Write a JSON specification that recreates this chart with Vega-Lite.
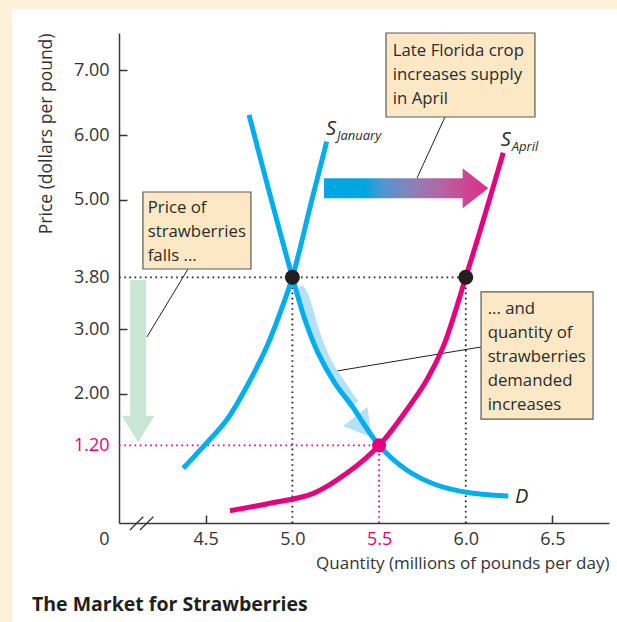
{
  "$schema": "https://vega.github.io/schema/vega-lite/v6.json",
  "width": 490,
  "height": 490,
  "autosize": {"type": "none"},
  "padding": {"left": 119, "top": 33, "right": 8, "bottom": 99},
  "background": "#ffffff",
  "config": {
    "view": {"stroke": null},
    "font": "Open Sans",
    "axis": {"grid": false, "labelFont": "Open Sans", "titleFont": "Open Sans", "labelFontSize": 18, "titleFontSize": 17, "domainColor": "#3a3a3a", "domainWidth": 1.5, "tickWidth": 1.5, "labelColor": "#333333", "titleColor": "#333333", "titleFontWeight": "normal"}
  },
  "title": {"text": "The Market for Strawberries", "orient": "bottom", "anchor": "start", "frame": "group", "dx": -87, "dy": -26, "offset": 0, "fontSize": 19.5, "fontWeight": "bold", "color": "#231F20", "font": "Open Sans"},
  "datasets": {
    "strips": [
      {"x": 3.0, "x2": 7.2, "y": 9.0, "y2": 7.95},
      {"x": 3.0, "x2": 3.383, "y": 9.0, "y2": -1.531}
    ],
    "curves": [
      {"series": "SJ", "o": 1, "x": 4.371, "y": 0.846},
      {"series": "SJ", "o": 2, "x": 4.486, "y": 1.180},
      {"series": "SJ", "o": 3, "x": 4.621, "y": 1.593},
      {"series": "SJ", "o": 4, "x": 4.736, "y": 2.108},
      {"series": "SJ", "o": 5, "x": 4.852, "y": 2.727},
      {"series": "SJ", "o": 6, "x": 4.928, "y": 3.243},
      {"series": "SJ", "o": 7, "x": 5.0, "y": 3.8},
      {"series": "SJ", "o": 8, "x": 5.112, "y": 4.995},
      {"series": "SJ", "o": 9, "x": 5.198, "y": 5.897},
      {"series": "D", "o": 1, "x": 4.750, "y": 6.310},
      {"series": "D", "o": 2, "x": 4.874, "y": 5.042},
      {"series": "D", "o": 3, "x": 5.0, "y": 3.8},
      {"series": "D", "o": 4, "x": 5.073, "y": 3.140},
      {"series": "D", "o": 5, "x": 5.149, "y": 2.624},
      {"series": "D", "o": 6, "x": 5.246, "y": 2.161},
      {"series": "D", "o": 7, "x": 5.344, "y": 1.809},
      {"series": "D", "o": 8, "x": 5.5, "y": 1.2},
      {"series": "D", "o": 9, "x": 5.659, "y": 0.820},
      {"series": "D", "o": 10, "x": 5.832, "y": 0.588},
      {"series": "D", "o": 11, "x": 6.043, "y": 0.459},
      {"series": "D", "o": 12, "x": 6.245, "y": 0.418},
      {"series": "SA", "o": 1, "x": 4.640, "y": 0.190},
      {"series": "SA", "o": 2, "x": 4.871, "y": 0.305},
      {"series": "SA", "o": 3, "x": 5.121, "y": 0.459},
      {"series": "SA", "o": 4, "x": 5.313, "y": 0.769},
      {"series": "SA", "o": 5, "x": 5.5, "y": 1.2},
      {"series": "SA", "o": 6, "x": 5.659, "y": 1.748},
      {"series": "SA", "o": 7, "x": 5.775, "y": 2.212},
      {"series": "SA", "o": 8, "x": 5.870, "y": 2.727},
      {"series": "SA", "o": 9, "x": 6.0, "y": 3.8},
      {"series": "SA", "o": 10, "x": 6.110, "y": 4.763},
      {"series": "SA", "o": 11, "x": 6.216, "y": 5.727}
    ],
    "band": [
      {"o": 1, "x": 5.034, "y": 3.630},
      {"o": 2, "x": 5.063, "y": 3.500},
      {"o": 3, "x": 5.121, "y": 2.985},
      {"o": 4, "x": 5.198, "y": 2.470},
      {"o": 5, "x": 5.284, "y": 2.108},
      {"o": 6, "x": 5.355, "y": 1.830}
    ],
    "bandhead": [{"x": 5.410, "y": 1.486}],
    "shift": [{"x": 5.656, "y": 5.176}],
    "fall": [{"x": 4.110, "y": 2.503}],
    "dotsBlack": [
      {"x": 4, "x2": 6, "y": 3.8, "y2": 3.8},
      {"x": 5, "x2": 5, "y": 0, "y2": 3.8},
      {"x": 6, "x2": 6, "y": 0, "y2": 3.8}
    ],
    "dotsPink": [
      {"x": 4, "x2": 5.5, "y": 1.2, "y2": 1.2},
      {"x": 5.5, "x2": 5.5, "y": 0, "y2": 1.2}
    ],
    "leaders": [
      {"x": 5.880, "y": 6.279, "x2": 5.719, "y2": 5.336},
      {"x": 4.398, "y": 3.928, "x2": 4.161, "y2": 2.877},
      {"x": 6.088, "y": 2.722, "x2": 5.257, "y2": 2.351}
    ],
    "breaks": [
      {"x": 4.063, "y": -0.108, "x2": 4.140, "y2": 0.097},
      {"x": 4.121, "y": -0.108, "x2": 4.198, "y2": 0.097}
    ],
    "eqBlack": [{"x": 5.0, "y": 3.8}, {"x": 6.0, "y": 3.8}],
    "eqPink": [{"x": 5.5, "y": 1.2}],
    "boxes": [
      {"x": 5.540, "x2": 6.399, "y": 7.578, "y2": 6.279},
      {"x": 4.138, "x2": 4.761, "y": 5.119, "y2": 3.928},
      {"x": 6.088, "x2": 6.734, "y": 3.573, "y2": 1.608}
    ],
    "boxText": [
      {"x": 5.579, "y": 7.222, "t": "Late Florida crop\nincreases supply\nin April"},
      {"x": 4.1655, "y": 4.790, "t": "Price of\nstrawberries\nfalls ..."},
      {"x": 6.126, "y": 3.228, "t": "... and\nquantity of\nstrawberries\ndemanded\nincreases"}
    ],
    "bigLabels": [
      {"x": 5.194, "y": 6.0, "t": "S"},
      {"x": 6.201, "y": 5.830, "t": "S"},
      {"x": 6.284, "y": 0.314, "t": "D"}
    ],
    "subLabels": [
      {"x": 5.257, "y": 5.923, "t": "January"},
      {"x": 6.265, "y": 5.758, "t": "April"}
    ]
  },
  "encoding": {
    "x": {
      "field": "x", "type": "quantitative",
      "scale": {"domain": [4, 6.826], "nice": false, "zero": false},
      "axis": {
        "values": [4, 4.5, 5, 5.5, 6, 6.5],
        "labelExpr": "datum.value == 4 ? '0' : format(datum.value, '.1f')",
        "labelOffset": {"condition": {"test": "datum.value == 4", "value": -15}, "value": 0},
        "labelColor": {"condition": {"test": "datum.value == 5.5", "value": "#E6007E"}, "value": "#333333"},
        "tickColor": {"condition": {"test": "datum.value == 4.5 || datum.value == 6.5", "value": "#333333"}, "value": "transparent"},
        "tickSize": -8,
        "labelPadding": 15,
        "labelFontSize": 18,
        "labelFlush": false,
        "labelOverlap": false,
        "title": "Quantity (millions of pounds per day)",
        "titleAnchor": "end",
        "titleFontSize": 17,
        "titlePadding": 7
      }
    },
    "y": {
      "field": "y", "type": "quantitative",
      "scale": {"domain": [0, 7.578], "nice": false, "zero": false},
      "axis": {
        "values": [1.2, 2, 3, 3.8, 5, 6, 7],
        "format": ".2f",
        "labelColor": {"condition": {"test": "datum.value == 1.2", "value": "#E6007E"}, "value": "#333333"},
        "tickColor": {"condition": {"test": "datum.value == 1.2 || datum.value == 3.8", "value": "transparent"}, "value": "#333333"},
        "tickSize": -8,
        "labelPadding": 18,
        "labelFontSize": 18,
        "labelOverlap": false,
        "title": "Price (dollars per pound)",
        "titleAnchor": "end",
        "titleFontSize": 17.5,
        "titlePadding": 18
      }
    }
  },
  "layer": [
    {"data": {"name": "strips"}, "mark": {"type": "rect", "fill": "#FEF0D9", "clip": false}, "encoding": {"x2": {"field": "x2"}, "y2": {"field": "y2"}}},
    {"data": {"name": "dotsBlack"}, "mark": {"type": "rule", "color": "#231F20", "strokeWidth": 1.8, "strokeDash": [1.6, 3.6]}, "encoding": {"x2": {"field": "x2"}, "y2": {"field": "y2"}}},
    {"data": {"name": "dotsPink"}, "mark": {"type": "rule", "color": "#E6007E", "strokeWidth": 1.8, "strokeDash": [1.6, 3.6]}, "encoding": {"x2": {"field": "x2"}, "y2": {"field": "y2"}}},
    {"data": {"name": "fall"}, "mark": {"type": "point", "filled": true, "fill": "#C8E6D4", "opacity": 1, "strokeWidth": 0, "size": 26341, "shape": "M-0.097,-1 L0.097,-1 L0.097,0.672 L0.201,0.672 L0,1 L-0.201,0.672 L-0.097,0.672 Z"}},
    {"data": {"name": "leaders"}, "mark": {"type": "rule", "color": "#231F20", "strokeWidth": 1}, "encoding": {"x2": {"field": "x2"}, "y2": {"field": "y2"}}},
    {"data": {"name": "shift"}, "mark": {"type": "point", "filled": true, "opacity": 1, "strokeWidth": 0, "size": 26995, "shape": "M-1,-0.122 L0.688,-0.122 L0.688,-0.243 L1,0 L0.688,0.243 L0.688,0.122 L-1,0.122 Z",
      "fill": {"gradient": "linear", "x1": 0, "y1": 0, "x2": 1, "y2": 0, "stops": [
        {"offset": 0, "color": "#00A6E0"},
        {"offset": 0.24, "color": "#00A6E0"},
        {"offset": 0.36, "color": "#5096CF"},
        {"offset": 0.52, "color": "#8883BB"},
        {"offset": 0.7, "color": "#B067A6"},
        {"offset": 0.9, "color": "#D33F8E"},
        {"offset": 1, "color": "#E02A8A"}
      ]}}},
    {"data": {"name": "band"}, "mark": {"type": "line", "color": "#B5E1F6", "strokeWidth": 11, "interpolate": "catmull-rom", "strokeCap": "butt"}, "encoding": {"order": {"field": "o"}}},
    {"data": {"name": "bandhead"}, "mark": {"type": "point", "filled": true, "fill": "#B5E1F6", "opacity": 1, "strokeWidth": 0, "size": 949, "angle": 52, "shape": "M-0.86,-1 L0.86,0 L-0.86,1 Z"}},
    {"data": {"name": "curves"}, "mark": {"type": "line", "strokeWidth": 5, "interpolate": "catmull-rom", "strokeCap": "butt"},
      "encoding": {"detail": {"field": "series"}, "order": {"field": "o"},
        "color": {"field": "series", "type": "nominal", "scale": {"domain": ["SJ", "D", "SA"], "range": ["#00AEEF", "#00AEEF", "#E6007E"]}, "legend": null}}},
    {"data": {"name": "breaks"}, "mark": {"type": "rule", "color": "#333333", "strokeWidth": 1.3}, "encoding": {"x2": {"field": "x2"}, "y2": {"field": "y2"}}},
    {"data": {"name": "eqBlack"}, "mark": {"type": "circle", "color": "#231F20", "opacity": 1, "size": 225}},
    {"data": {"name": "eqPink"}, "mark": {"type": "circle", "color": "#E6007E", "opacity": 1, "size": 200}},
    {"data": {"name": "boxes"}, "mark": {"type": "rect", "fill": "#FDE8C6", "stroke": "#5a5a5a", "strokeWidth": 1.2}, "encoding": {"x2": {"field": "x2"}, "y2": {"field": "y2"}}},
    {"data": {"name": "boxText"}, "mark": {"type": "text", "align": "left", "baseline": "alphabetic", "lineBreak": "\n", "lineHeight": 24, "fontSize": 16.8, "font": "Open Sans", "color": "#2b2b2b"}, "encoding": {"text": {"field": "t"}}},
    {"data": {"name": "bigLabels"}, "mark": {"type": "text", "align": "left", "baseline": "alphabetic", "fontSize": 20, "fontStyle": "italic", "font": "Open Sans", "color": "#2b2b2b"}, "encoding": {"text": {"field": "t"}}},
    {"data": {"name": "subLabels"}, "mark": {"type": "text", "align": "left", "baseline": "alphabetic", "fontSize": 13, "fontStyle": "italic", "font": "Open Sans", "color": "#2b2b2b"}, "encoding": {"text": {"field": "t"}}}
  ]
}
